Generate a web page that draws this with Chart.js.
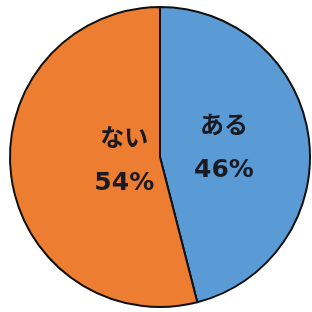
<!DOCTYPE html>
<html>
<head>
<meta charset="utf-8">
<script src="https://cdn.jsdelivr.net/npm/chart.js@4"></script>
<style>
  html, body { margin: 0; padding: 0; background: #fff; }
  #wrap { width: 312px; height: 312px; }
</style>
</head>
<body>
<div id="wrap"><canvas id="pieChart" width="312" height="312"></canvas></div>
<script>
// data
const labels = ['ある', 'ない'];
const values = [46, 54];
const colors = ['#5B9BD5', '#ED7D31'];

// draws the two-line label (name + percent) inside each slice
const sliceLabels = {
    id: 'sliceLabels',
    afterDatasetsDraw(chart, args, opts) {
        const ctx = chart.ctx;
        const meta = chart.getDatasetMeta(0);
        const total = values.reduce((a, b) => a + b, 0);
        ctx.save();
        ctx.fillStyle = '#1a1a22';
        ctx.textAlign = 'center';
        ctx.textBaseline = 'middle';
        meta.data.forEach((arc, i) => {
            const p = arc.getProps(['x', 'y', 'startAngle', 'endAngle', 'outerRadius'], true);
            const mid = (p.startAngle + p.endAngle) / 2;
            const r = p.outerRadius * opts.radius[i];
            const x = p.x + Math.cos(mid) * r;
            const y = p.y + Math.sin(mid) * r;
            const pct = Math.round(values[i] / total * 100) + '%';
            ctx.font = 'bold 24px "Noto Sans CJK JP", sans-serif';
            ctx.fillText(labels[i], x, y - 25);
            ctx.font = 'bold 25px "DejaVu Sans", sans-serif';
            ctx.fillText(pct, x, y + 22);
        });
        ctx.restore();
    }
};

const ctx = document.getElementById('pieChart').getContext('2d');
new Chart(ctx, {
    type: 'pie',
    data: {
        labels: labels,
        datasets: [{
            data: values,
            backgroundColor: colors,
            borderColor: '#111',
            borderWidth: 2
        }]
    },
    options: {
        responsive: false,
        animation: false,
        layout: { padding: { left: 9, right: 1, top: 6, bottom: 4 } },
        plugins: {
            legend: { display: false },
            tooltip: { enabled: false },
            sliceLabels: { radius: [0.43, 0.24] }
        }
    },
    plugins: [sliceLabels]
});
</script>
</body>
</html>
